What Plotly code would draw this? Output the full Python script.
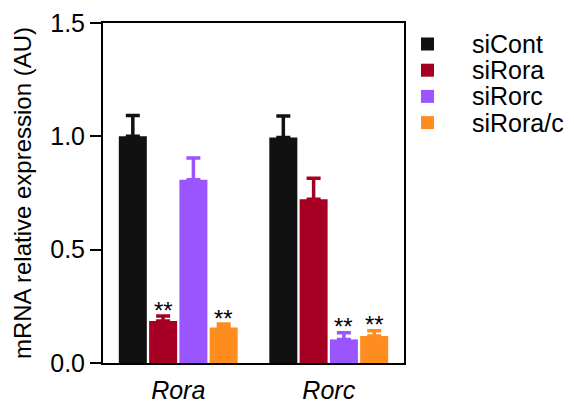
import plotly.graph_objects as go

# ---- data ----
genes = ["Rora", "Rorc"]
series = ["siCont", "siRora", "siRorc", "siRora/c"]
means = {
    "siCont":   [1.00, 0.995],
    "siRora":   [0.185, 0.722],
    "siRorc":   [0.809, 0.104],
    "siRora/c": [0.157, 0.119],
}
errors = {
    "siCont":   [0.092, 0.095],
    "siRora":   [0.022, 0.093],
    "siRorc":   [0.095, 0.029],
    "siRora/c": [0.015, 0.023],
}
signif = {
    "siCont":   ["", ""],
    "siRora":   ["**", ""],
    "siRorc":   ["", "**"],
    "siRora/c": ["**", "**"],
}
y_ticks = [0.0, 0.5, 1.0, 1.5]

# ---- style ----
colors = {"siCont": "#111111", "siRora": "#A50023", "siRorc": "#9B55FF", "siRora/c": "#FF8C1E"}
FONT = "Liberation Sans, Arial, sans-serif"
FS = 25
W, H = 574, 405
ML, MR, MT, MB = 103, 170, 23, 42
PW, PH = W - ML - MR, H - MT - MB
BARGAP, BARGROUPGAP = 0.195, 0.075

fig = go.Figure()
for s in series:
    fig.add_trace(go.Bar(
        name=s, x=genes, y=means[s],
        marker=dict(color=colors[s], line=dict(width=0)),
        error_y=dict(type="data", symmetric=False, array=errors[s],
                     arrayminus=[0] * len(genes), color=colors[s],
                     thickness=3.5, width=7),
        showlegend=False,
    ))

# significance stars above error bars
px_per_cat = PW / len(genes)
slot = (1 - BARGAP) / len(series) * px_per_cat
annotations = []
for i, s in enumerate(series):
    for j, g in enumerate(genes):
        if signif[s][j]:
            annotations.append(dict(
                x=g, y=means[s][j] + errors[s][j], xref="x", yref="y",
                text=signif[s][j], showarrow=False,
                xshift=(i - (len(series) - 1) / 2) * slot,
                yanchor="middle", yshift=6,
                font=dict(family=FONT, size=24, color="black"),
            ))

# manual legend
shapes = []
for k, s in enumerate(series):
    cy = 44 + k * 26.2
    shapes.append(dict(type="rect", xref="paper", yref="paper",
                       x0=(421 - ML) / PW, x1=(434 - ML) / PW,
                       y0=(H - MB - (cy + 6.5)) / PH, y1=(H - MB - (cy - 6.5)) / PH,
                       fillcolor=colors[s], line=dict(width=0)))
    annotations.append(dict(x=(470 - ML) / PW, y=(H - MB - cy) / PH,
                            xref="paper", yref="paper", xanchor="left", yanchor="middle",
                            text=s, showarrow=False,
                            font=dict(family=FONT, size=FS, color="black")))

fig.update_layout(
    width=W, height=H,
    margin=dict(l=ML, r=MR, t=MT, b=MB, pad=0),
    paper_bgcolor="white", plot_bgcolor="white",
    barmode="group", bargap=BARGAP, bargroupgap=BARGROUPGAP,
    font=dict(family=FONT, size=FS, color="black"),
    annotations=annotations, shapes=shapes,
    xaxis=dict(type="category", range=[-0.5, len(genes) - 0.5], automargin=False,
               showline=True, mirror=True, linecolor="black", linewidth=2,
               ticks="", showgrid=False, zeroline=False,
               tickfont=dict(family=FONT, size=FS, style="italic"),
               ticklabelstandoff=4),
    yaxis=dict(range=[0, 1.5], tickvals=y_ticks, tickformat=".1f", automargin=False,
               showline=True, mirror=True, linecolor="black", linewidth=2,
               ticks="outside", ticklen=11, tickwidth=2, tickcolor="black",
               showgrid=False, zeroline=False,
               tickfont=dict(family=FONT, size=FS),
               title=dict(text="mRNA relative expression (AU)", standoff=12,
                          font=dict(family=FONT, size=24))),
)

fig.write_html("out.html")
